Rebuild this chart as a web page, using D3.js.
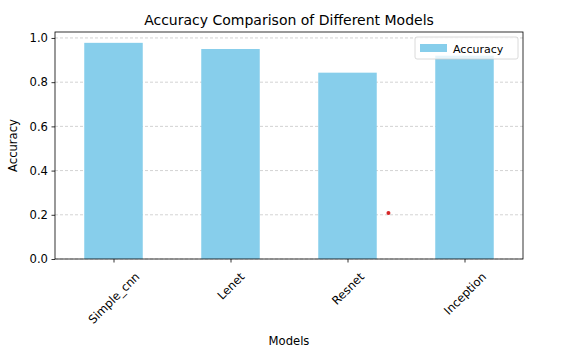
<!DOCTYPE html>
<html><head><meta charset="utf-8">
<script src="https://cdn.jsdelivr.net/npm/d3@7"></script>
<style>body{margin:0;background:#fff}svg{display:block;font-family:"DejaVu Sans",sans-serif}</style>
</head><body>
<svg id="c" width="562" height="355"></svg>
<script>
const categories = ["Simple_cnn", "Lenet", "Resnet", "Inception"];
const accuracy = [0.978, 0.950, 0.843, 0.920];
const yTicks = [0.0, 0.2, 0.4, 0.6, 0.8, 1.0];
const strayPointX = [2.35];
const strayPointY = [0.208];

const FS = 11.6;
const svg = d3.select("#c");
const L = 55, R = 523, T = 32, B = 259;
const x = d3.scaleLinear().domain([-0.5, categories.length - 0.5]).range([L, R]);
const y = d3.scaleLinear().domain([0, 1.027]).range([B, T]);

// grid
svg.append("g").selectAll("line").data(yTicks).join("line")
  .attr("x1", L).attr("x2", R).attr("y1", d => y(d)).attr("y2", d => y(d))
  .attr("stroke", "#c8c8c8").attr("stroke-width", 0.8).attr("stroke-dasharray", "3,2");

// bars
const bw = x(0.25) - x(0);
svg.append("g").selectAll("rect").data(accuracy).join("rect")
  .attr("x", (d, i) => x(i) - bw).attr("width", bw * 2)
  .attr("y", d => y(d)).attr("height", d => B - y(d))
  .attr("fill", "#87CEEB");

// stray point
svg.append("g").selectAll("circle").data(strayPointX).join("circle")
  .attr("cx", d => x(d)).attr("cy", (d, i) => y(strayPointY[i])).attr("r", 2)
  .attr("fill", "#d62728");

// frame
svg.append("rect").attr("x", L).attr("y", T).attr("width", R - L).attr("height", B - T)
  .attr("fill", "none").attr("stroke", "#000").attr("stroke-width", 0.8);

// y axis
const yAxis = d3.axisLeft(y).tickValues(yTicks).tickFormat(d3.format(".1f")).tickSize(3.5).tickPadding(3.5);
const gy = svg.append("g").attr("transform", `translate(${L},0)`).call(yAxis);
gy.select(".domain").remove();
gy.selectAll("text").attr("font-size", FS).attr("font-family", "DejaVu Sans").attr("fill", "#000");
gy.selectAll("line").attr("stroke", "#000").attr("stroke-width", 0.8);

// x axis
const xAxis = d3.axisBottom(x).tickValues(d3.range(categories.length)).tickFormat(i => categories[i]).tickSize(3.5);
const gx = svg.append("g").attr("transform", `translate(0,${B})`).call(xAxis);
gx.select(".domain").remove();
gx.selectAll("line").attr("stroke", "#000").attr("stroke-width", 0.8);
gx.selectAll("text").attr("font-size", FS).attr("font-family", "DejaVu Sans").attr("fill", "#000")
  .attr("dy", null).attr("y", 0).attr("text-anchor", "middle").attr("dominant-baseline", "central")
  .each(function(d) {
    const len = this.getComputedTextLength();
    const h = FS;
    const half = (len + h) * Math.SQRT1_2 / 2;
    d3.select(this).attr("transform", `translate(0,${3.5 + 8 + half}) rotate(-45)`);
  });

// title & labels
svg.append("text").attr("x", (L + R) / 2).attr("y", 25).attr("text-anchor", "middle")
  .attr("font-size", 14).text("Accuracy Comparison of Different Models");
svg.append("text").attr("x", (L + R) / 2).attr("y", 345).attr("text-anchor", "middle")
  .attr("font-size", FS).text("Models");
svg.append("text").attr("transform", `translate(17,${(T + B) / 2}) rotate(-90)`).attr("text-anchor", "middle")
  .attr("font-size", FS).text("Accuracy");

// legend
const lg = svg.append("g");
lg.append("rect").attr("x", 415).attr("y", 37).attr("width", 103).attr("height", 22).attr("rx", 2)
  .attr("fill", "#fff").attr("fill-opacity", 0.8).attr("stroke", "#d0d0d0").attr("stroke-width", 0.8);
lg.append("rect").attr("x", 420).attr("y", 44).attr("width", 27).attr("height", 8).attr("fill", "#87CEEB");
lg.append("text").attr("x", 453).attr("y", 53).attr("font-size", 11).text("Accuracy");
</script>
</body></html>
